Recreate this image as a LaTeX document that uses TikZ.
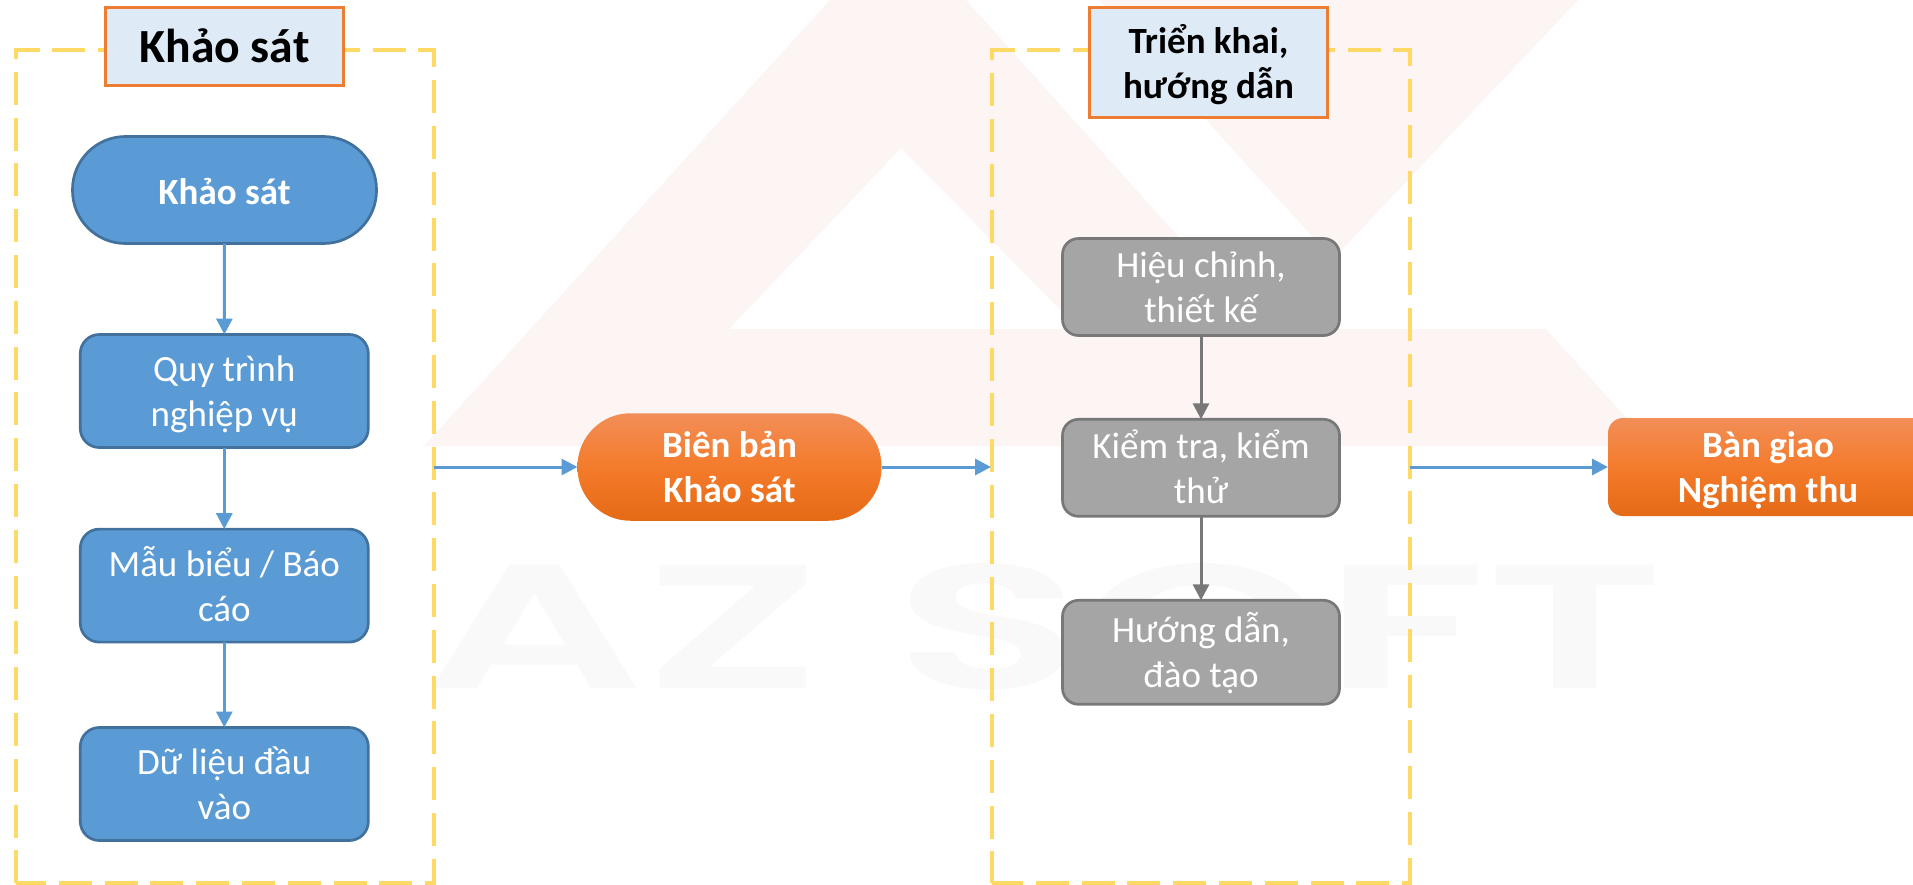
\documentclass[tikz,border=0pt]{standalone}
\usepackage{fontspec}
\usepackage{graphicx}
\setmainfont{Carlito}
\newfontfamily\wmfont{Poppins SemiBold}
\usetikzlibrary{arrows.meta}
\definecolor{wmpink}{HTML}{FDF4F4}
\definecolor{wmgrey}{HTML}{F9F9F9}
\definecolor{framey}{HTML}{FFD966}
\definecolor{blueF}{HTML}{5B9BD5}
\definecolor{blueD}{HTML}{41719C}
\definecolor{greyF}{HTML}{A5A5A5}
\definecolor{greyD}{HTML}{787878}
\definecolor{orangeD}{HTML}{ED7D31}
\definecolor{titleF}{HTML}{DEEAF6}
\definecolor{orT}{HTML}{F28E58}
\definecolor{orM}{HTML}{F47B2B}
\definecolor{orB}{HTML}{E56A16}
\newcommand\ltop{\rule{0pt}{38pt}}
\newcommand\lbot{\rule[-12pt]{0pt}{12pt}}
\tikzset{
  x=1pt,y=-1pt,
  every node/.style={inner sep=0pt,outer sep=0pt,align=center},
  frameline/.style={draw=framey,line width=4pt,dash pattern=on 33pt off 12.8pt},
  titlebox/.style={rectangle,draw=orangeD,fill=titleF,line width=3pt,text=black,font=\fontsize{37}{45}\selectfont\bfseries},
  bluebox/.style={rectangle,rounded corners=19pt,draw=blueD,fill=blueF,line width=2.7pt,text=white,minimum width=288pt,minimum height=113pt,font=\fontsize{37}{45}\selectfont},
  greybox/.style={rectangle,rounded corners=16pt,draw=greyD,fill=greyF,line width=2.7pt,text=white,minimum width=277pt,font=\fontsize{37}{45}\selectfont},
  orangebox/.style={rectangle,top color=orT,bottom color=orB,middle color=orM,text=white,font=\fontsize{37}{45}\selectfont\bfseries},
  bluearrow/.style={draw=blueF,line width=3pt,-{Triangle[length=16pt,width=16pt]}},
  greyarrow/.style={draw=greyD,line width=3pt,-{Triangle[length=16pt,width=16pt]}}
}
\begin{document}
\begin{tikzpicture}
\clip (0,0) rectangle (1913,884);
\fill[white] (0,0) rectangle (1913,884);
% watermark
\fill[wmpink,even odd rule] (424,446) -- (830,0) -- (966,0) -- (1261,329) -- (1546,329) -- (1652,446) -- cycle
  (901,148) -- (729,329) -- (1079,329) -- cycle;
\fill[wmpink] (1099,0) -- (1578,0) -- (1333,259) -- (1235,152) -- cycle;
\node[text=wmgrey,anchor=north west] (wm) at (424,563) {\resizebox{1238pt}{125pt}{\wmfont AZ SOFT}};
% frames
\draw[frameline] (52,50) -- (434,50) -- (434,883) -- (15.5,883);
\draw[frameline] (39.6,50) -- (15.5,50) -- (15.5,883);
\draw[frameline] (1027,50) -- (1410,50) -- (1410,883) -- (992,883);
\draw[frameline] (1015,50) -- (992,50) -- (992,883);
\coordinate (f1e) at (434,467);
\coordinate (f2w) at (991,467);
\coordinate (f2e) at (1410,467);
% titles
\node[titlebox,minimum width=238pt,minimum height=78pt,font=\fontsize{47.6}{52}\selectfont\bfseries] (t1) at (224.5,46.5) {\rule[-14.4pt]{0pt}{60.4pt}Khảo sát};
\node[titlebox,minimum width=238pt,minimum height=110pt] (t2) at (1208.5,62.5) {\ltop Triển khai,\\hướng dẫn\lbot};
% left column
\node[rectangle,rounded corners=53pt,draw=blueD,fill=blueF,line width=2.7pt,text=white,minimum width=304pt,minimum height=107pt,font=\fontsize{37}{45}\selectfont\bfseries] (ks) at (224.5,190) {\rule{0pt}{41pt}Khảo sát\lbot};
\node[bluebox] (qt) at (224.3,391) {\ltop Quy trình\\nghiệp vụ\lbot};
\node[bluebox] (mb) at (224.3,585.6) {\ltop Mẫu biểu / Báo\\cáo\lbot};
\node[bluebox] (dl) at (224.3,784) {\ltop Dữ liệu đầu\\vào\lbot};
\draw[bluearrow] (ks) -- (qt);
\draw[bluearrow] (qt) -- (mb);
\draw[bluearrow] (mb) -- (dl);
% middle
\node[orangebox,rounded corners=53pt,minimum width=304pt,minimum height=107.5pt] (bb) at (729.5,467) {\ltop Biên bản\\Khảo sát\lbot};
\draw[bluearrow] (f1e) -- (bb);
\draw[bluearrow] (bb) -- (f2w);
% right column
\node[greybox,minimum height=97pt] (hc) at (1201,287) {\ltop Hiệu chỉnh,\\thiết kế\lbot};
\node[greybox,minimum height=97pt] (kt) at (1201,467.8) {\ltop Kiểm tra, kiểm\\thử\lbot};
\node[greybox,minimum height=104pt] (hd) at (1201,652.3) {\ltop Hướng dẫn,\\đào tạo\lbot};
\draw[greyarrow] (hc) -- (kt);
\draw[greyarrow] (kt) -- (hd);
% end
\node[orangebox,rounded corners=15pt,minimum width=320pt,minimum height=98pt] (bg) at (1768,467) {\ltop Bàn giao\\Nghiệm thu\lbot};
\draw[bluearrow] (f2e) -- (bg);
\end{tikzpicture}
\end{document}
